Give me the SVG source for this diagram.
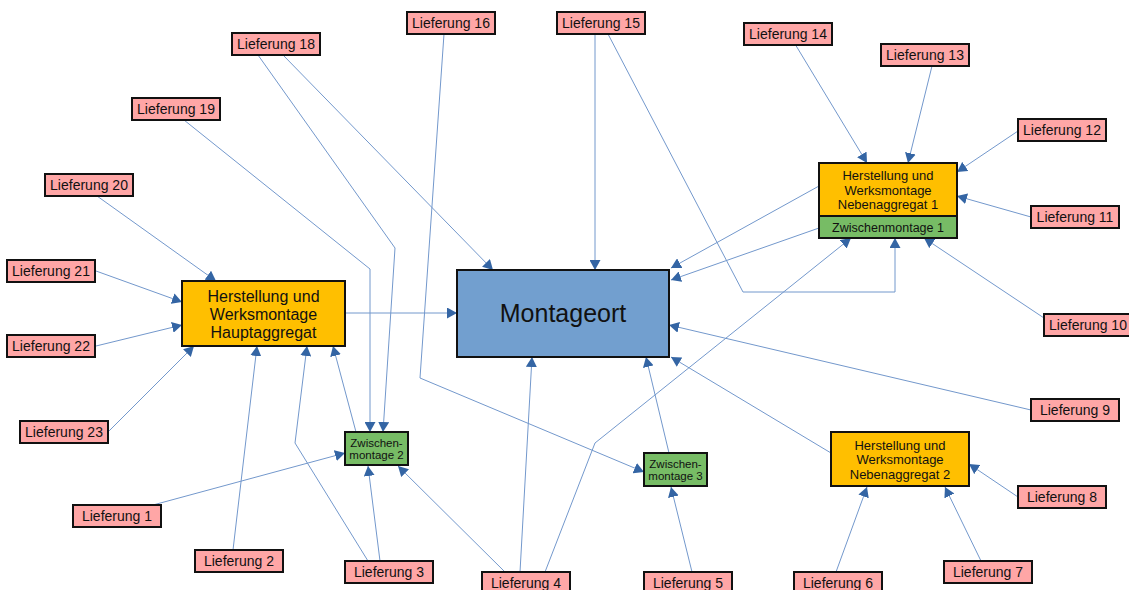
<svg xmlns="http://www.w3.org/2000/svg" width="1129" height="590" viewBox="0 0 1129 590">
  <style>
    .lbl rect { fill: #ffa6a6; stroke: #111; stroke-width: 2; }
    .lbl text { font-family: "Liberation Sans", Arial, sans-serif; font-size: 14px; fill: #111; text-anchor: middle; }
    .agg rect { fill: #ffbf00; stroke: #111; stroke-width: 2; }
    .zw rect, rect.zw { fill: #77bc65; stroke: #111; stroke-width: 2; }
    .t { font-family: "Liberation Sans", Arial, sans-serif; fill: #111; text-anchor: middle; }
    .con path { fill: none; stroke: #7398cc; stroke-width: 1; marker-end: url(#arr); }
  </style>
  <defs>
    <marker id="arr" viewBox="0 0 10 11" refX="10" refY="5.5" markerWidth="10" markerHeight="11" markerUnits="userSpaceOnUse" orient="auto">
      <path d="M0,0 L10,5.5 L0,11 z" fill="#3465a4"/>
    </marker>
  </defs>
  <rect width="1129" height="590" fill="#ffffff"/>

  <!-- connectors -->
  <g id="connectors" class="con">
    <!-- into Hauptaggregat -->
    <path d="M97,196 L216,281"/>
    <path d="M96,271 L182,302"/>
    <path d="M96,346 L182,325"/>
    <path d="M108,432 L194,346"/>
    <path d="M233,550 L257,346"/>
    <path d="M368,561 L295,443 L307,346"/>
    <path d="M356,432 L333,346"/>
    <!-- into Zwischenmontage 2 -->
    <path d="M153,505 L345,453"/>
    <path d="M380,561 L368,466"/>
    <path d="M505,572 L398,466"/>
    <path d="M184,120 L370,269 L370,432"/>
    <path d="M258,55 L395,248 L383,432"/>
    <!-- into Zwischenmontage 3 -->
    <path d="M444,34 L420,378 L644,472"/>
    <path d="M692,572 L671,487"/>
    <!-- into Montageort -->
    <path d="M345,313 L457,313"/>
    <path d="M283,55 L493,270"/>
    <path d="M595,34 L595,270"/>
    <path d="M819,186 L671,268"/>
    <path d="M819,228 L671,280"/>
    <path d="M1031,410 L669,325"/>
    <path d="M831,453 L671,357"/>
    <path d="M669,453 L646,357"/>
    <path d="M520,572 L532,357"/>
    <!-- into Nebenaggregat 1 / Zwischenmontage 1 -->
    <path d="M795,44 L867,163"/>
    <path d="M932,66 L908,163"/>
    <path d="M1018,131 L957,172"/>
    <path d="M1031,217 L957,196"/>
    <path d="M1044,318 L924,238"/>
    <path d="M608,34 L743,292 L895,292 L895,238"/>
    <path d="M545,572 L595,443 L851,238"/>
    <!-- into Nebenaggregat 2 -->
    <path d="M1018,497 L969,464"/>
    <path d="M981,561 L945,487"/>
    <path d="M836,572 L867,487"/>
  </g>

  <!-- central assembly site -->
  <g id="montageort">
    <rect x="457" y="270" width="212" height="87" fill="#729fcf" stroke="#111" stroke-width="2"/>
    <text class="t" x="563" y="322" font-size="25">Montageort</text>
  </g>

  <!-- main aggregate -->
  <g id="hauptaggregat" class="agg">
    <rect x="182" y="281" width="163" height="65"/>
    <text class="t" font-size="16"><tspan x="263.5" y="302">Herstellung und</tspan><tspan x="263.5" y="320">Werksmontage</tspan><tspan x="263.5" y="338">Hauptaggregat</tspan></text>
  </g>

  <!-- secondary aggregate 1 with intermediate assembly 1 -->
  <g id="nebenaggregat1" class="agg">
    <rect x="819" y="163" width="138" height="53"/>
    <text class="t" font-size="13"><tspan x="888" y="180">Herstellung und</tspan><tspan x="888" y="194.5">Werksmontage</tspan><tspan x="888" y="209">Nebenaggregat 1</tspan></text>
  </g>
  <g id="zwischenmontage1">
    <rect class="zw" x="819" y="216" width="138" height="22"/>
    <text class="t" x="888" y="232" font-size="12.5">Zwischenmontage 1</text>
  </g>

  <!-- secondary aggregate 2 -->
  <g id="nebenaggregat2" class="agg">
    <rect x="831" y="432" width="138" height="54"/>
    <text class="t" font-size="13"><tspan x="900" y="449.6">Herstellung und</tspan><tspan x="900" y="464.1">Werksmontage</tspan><tspan x="900" y="478.6">Nebenaggregat 2</tspan></text>
  </g>

  <!-- intermediate assemblies -->
  <g id="zwischenmontage2" class="zw">
    <rect x="345" y="432" width="63" height="33"/>
    <text class="t" font-size="11.5"><tspan x="376.5" y="446.5">Zwischen-</tspan><tspan x="376.5" y="459.4">montage 2</tspan></text>
  </g>
  <g id="zwischenmontage3" class="zw">
    <rect x="644" y="453" width="63" height="33"/>
    <text class="t" font-size="11.5"><tspan x="675.5" y="467.5">Zwischen-</tspan><tspan x="675.5" y="480.4">montage 3</tspan></text>
  </g>

  <!-- deliveries -->
  <g id="lieferung1" class="lbl"><rect x="73" y="505" width="88" height="22"/><text x="117" y="521">Lieferung 1</text></g>
  <g id="lieferung2" class="lbl"><rect x="195" y="550" width="88" height="22"/><text x="239" y="566">Lieferung 2</text></g>
  <g id="lieferung3" class="lbl"><rect x="345" y="561" width="88" height="22"/><text x="389" y="577">Lieferung 3</text></g>
  <g id="lieferung4" class="lbl"><rect x="482" y="572" width="88" height="22"/><text x="526" y="588">Lieferung 4</text></g>
  <g id="lieferung5" class="lbl"><rect x="644" y="572" width="88" height="22"/><text x="688" y="588">Lieferung 5</text></g>
  <g id="lieferung6" class="lbl"><rect x="794" y="572" width="88" height="22"/><text x="838" y="588">Lieferung 6</text></g>
  <g id="lieferung7" class="lbl"><rect x="944" y="561" width="88" height="22"/><text x="988" y="577">Lieferung 7</text></g>
  <g id="lieferung8" class="lbl"><rect x="1018" y="486" width="88" height="22"/><text x="1062" y="502">Lieferung 8</text></g>
  <g id="lieferung9" class="lbl"><rect x="1031" y="399" width="88" height="22"/><text x="1075" y="415">Lieferung 9</text></g>
  <g id="lieferung10" class="lbl"><rect x="1044" y="314" width="88" height="22"/><text x="1088" y="330">Lieferung 10</text></g>
  <g id="lieferung11" class="lbl"><rect x="1031" y="206" width="88" height="22"/><text x="1075" y="222">Lieferung 11</text></g>
  <g id="lieferung12" class="lbl"><rect x="1018" y="119" width="88" height="22"/><text x="1062" y="135">Lieferung 12</text></g>
  <g id="lieferung13" class="lbl"><rect x="881" y="44" width="88" height="22"/><text x="925" y="60">Lieferung 13</text></g>
  <g id="lieferung14" class="lbl"><rect x="744" y="23" width="88" height="22"/><text x="788" y="39">Lieferung 14</text></g>
  <g id="lieferung15" class="lbl"><rect x="557" y="12" width="88" height="22"/><text x="601" y="28">Lieferung 15</text></g>
  <g id="lieferung16" class="lbl"><rect x="407" y="12" width="88" height="22"/><text x="451" y="28">Lieferung 16</text></g>
  <g id="lieferung18" class="lbl"><rect x="232" y="33" width="88" height="22"/><text x="276" y="49">Lieferung 18</text></g>
  <g id="lieferung19" class="lbl"><rect x="132" y="98" width="88" height="22"/><text x="176" y="114">Lieferung 19</text></g>
  <g id="lieferung20" class="lbl"><rect x="45" y="174" width="88" height="22"/><text x="89" y="190">Lieferung 20</text></g>
  <g id="lieferung21" class="lbl"><rect x="7" y="260" width="88" height="22"/><text x="51" y="276">Lieferung 21</text></g>
  <g id="lieferung22" class="lbl"><rect x="7" y="335" width="88" height="22"/><text x="51" y="351">Lieferung 22</text></g>
  <g id="lieferung23" class="lbl"><rect x="20" y="421" width="88" height="22"/><text x="64" y="437">Lieferung 23</text></g>
</svg>
